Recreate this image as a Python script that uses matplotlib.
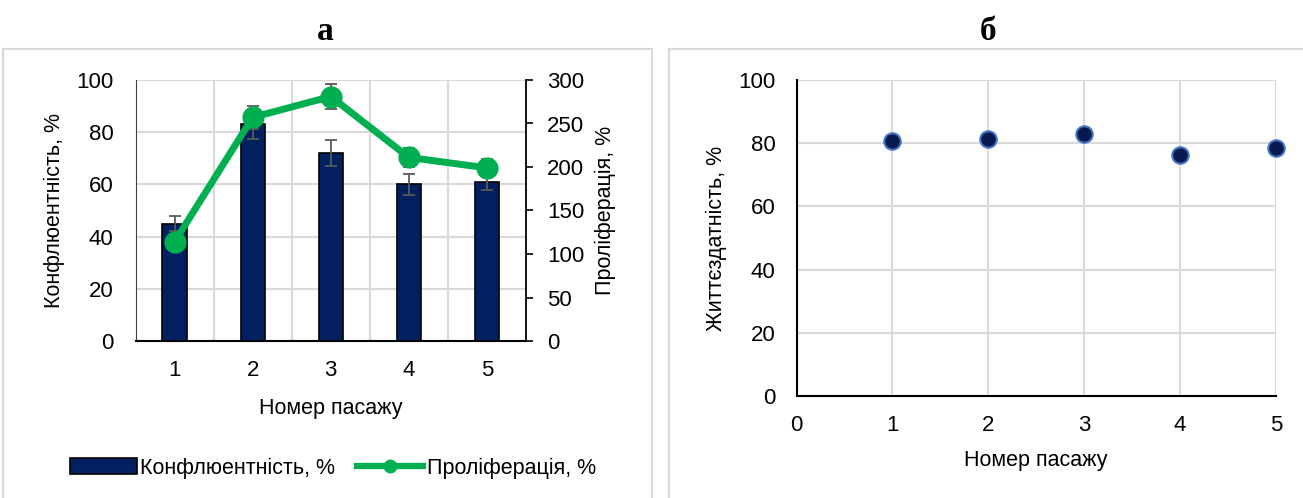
import matplotlib
matplotlib.use("Agg")
import matplotlib.pyplot as plt
from matplotlib.patches import Rectangle
from matplotlib.lines import Line2D

plt.rcParams['font.family'] = ['Liberation Sans', 'DejaVu Sans']

passages = [1, 2, 3, 4, 5]
confluence = [45, 83, 72, 60, 61]
confluence_err = [3, 5.5, 5, 4, 3]
proliferation = [114, 257, 281, 211, 199]
proliferation_err = [5, 13, 14, 10.5, 10]
viability = [80.8, 81.3, 83.0, 76.4, 78.5]

left_ticks = [0, 20, 40, 60, 80, 100]
right_ticks = [0, 50, 100, 150, 200, 250, 300]

NAVY = '#002060'
GREEN = '#00b050'
GRID = '#d9d9d9'
W, H = 1303, 498
TICK_FS = 16
LABEL_FS = 15.5

fig = plt.figure(figsize=(W / 100, H / 100), dpi=100)

def fbox(x0, y0, x1, y1):
    return [x0 / W, 1 - y1 / H, (x1 - x0) / W, (y1 - y0) / H]

# panel frames
for x0, x1 in [(3, 652), (669, 1310)]:
    fig.add_artist(Rectangle((x0 / W, -0.05), (x1 - x0) / W, 1 - 49 / H + 0.05,
                             transform=fig.transFigure, fill=False,
                             edgecolor=GRID, lw=1.5))

fig.text(325 / W, 1 - 31 / H, 'а', family='Liberation Serif', weight='bold',
         fontsize=24, ha='center', va='center')
fig.text(988 / W, 1 - 31 / H, 'б', family='Liberation Serif', weight='bold',
         fontsize=24, ha='center', va='center')

# ---- panel a: confluence bars + proliferation line ----
ax = fig.add_axes(fbox(135.5, 80, 526, 341))
ax.bar(passages, confluence, width=0.31, color=NAVY, edgecolor='black', lw=1.2,
       zorder=3)
ax.errorbar(passages, confluence, yerr=confluence_err, fmt='none',
            ecolor='#595959', elinewidth=1.3, capsize=4, capthick=1.3, zorder=4)
ax.set_xlim(0.5, 5.5)
ax.set_ylim(0, 100)
ax.set_yticks(left_ticks)
ax.set_xticks(passages)
ax.set_xticks([1.5, 2.5, 3.5, 4.5], minor=True)
ax.grid(axis='y', which='major', color=GRID, lw=1.5, zorder=0)
ax.grid(axis='x', which='minor', color=GRID, lw=1.5, zorder=0)
ax.set_axisbelow(True)
ax.tick_params(axis='y', which='both', length=0, labelsize=TICK_FS, pad=16)
ax.tick_params(axis='x', which='both', length=0, labelsize=TICK_FS, pad=14)
for s in ['top', 'right']:
    ax.spines[s].set_visible(False)
ax.spines['left'].set_color('#404040')
ax.spines['bottom'].set_color('black')
ax.spines['bottom'].set_linewidth(1.5)
ax.set_ylabel('Конфлюентність, %', fontsize=LABEL_FS, labelpad=8)
ax.set_xlabel('Номер пасажу', fontsize=LABEL_FS, labelpad=12)

ax2 = ax.twinx()
ax2.errorbar(passages, proliferation, yerr=proliferation_err, fmt='none',
             ecolor='#595959', elinewidth=1.3, capsize=4, capthick=1.3, zorder=3)
ax2.plot(passages, proliferation, color=GREEN, lw=5, marker='o', ms=15,
         zorder=4)
ax2.set_ylim(0, 300)
ax2.set_yticks(right_ticks)
ax2.tick_params(axis='y', length=5, width=1.2, labelsize=TICK_FS, pad=10)
for s in ['top', 'left', 'bottom']:
    ax2.spines[s].set_visible(False)
ax2.spines['right'].set_color('black')
ax2.spines['right'].set_linewidth(1.3)
ax2.set_ylabel('Проліферація, %', fontsize=LABEL_FS, rotation=90, labelpad=8)

handles = [Rectangle((0, 0), 1, 1, facecolor=NAVY, edgecolor='black', lw=1.2),
           Line2D([], [], color=GREEN, lw=4.5, marker='o', ms=9)]
fig.legend(handles, ['Конфлюентність, %', 'Проліферація, %'],
           loc='center', bbox_to_anchor=(333 / W, 1 - 468 / H), ncol=2,
           frameon=False, fontsize=LABEL_FS, handlelength=3.1, handletextpad=0.15,
           columnspacing=1.0, handleheight=0.7)

# ---- panel b: viability scatter ----
bx = fig.add_axes(fbox(796.5, 80, 1276, 396))
bx.scatter(passages, viability, s=140, color='#061a4f', edgecolor='#4472c4',
           lw=1.5, zorder=4, clip_on=False)
bx.set_xlim(0, 5)
bx.set_ylim(0, 100)
bx.set_xticks([0, 1, 2, 3, 4, 5])
bx.set_yticks(left_ticks)
bx.grid(True, color=GRID, lw=1.5, zorder=0)
bx.set_axisbelow(True)
bx.tick_params(axis='y', length=0, labelsize=TICK_FS, pad=15)
bx.tick_params(axis='x', length=0, labelsize=TICK_FS, pad=14)
for s in ['top', 'right']:
    bx.spines[s].set_visible(False)
bx.spines['left'].set_color('black')
bx.spines['left'].set_linewidth(1.5)
bx.spines['bottom'].set_color('black')
bx.spines['bottom'].set_linewidth(1.5)
bx.set_ylabel('Життєздатність, %', fontsize=LABEL_FS, labelpad=8)
bx.set_xlabel('Номер пасажу', fontsize=LABEL_FS, labelpad=10)

fig.savefig('out.png', dpi=100)
